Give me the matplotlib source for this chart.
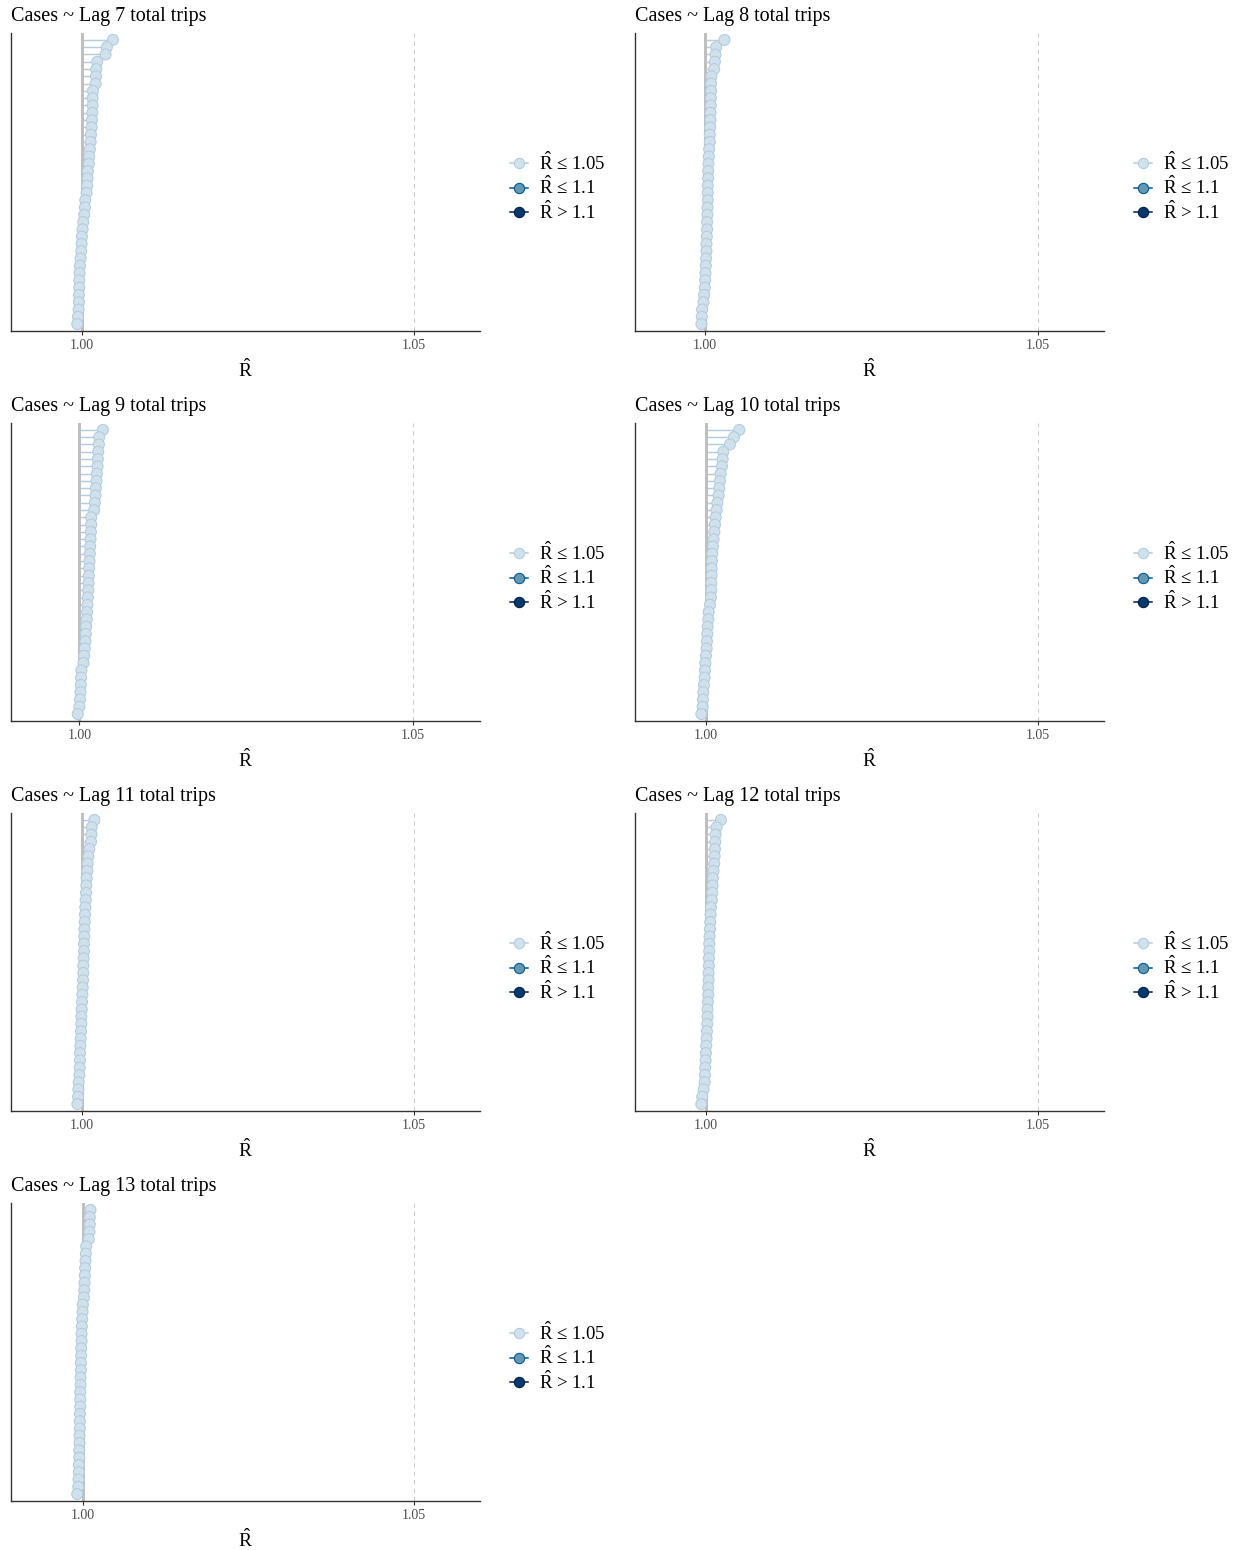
"""R-hat diagnostic plots for the lagged total trips models"""

import matplotlib
matplotlib.use('Agg')
import matplotlib.pyplot as plt
from matplotlib.lines import Line2D

plt.rcParams['font.family'] = ['Liberation Serif', 'DejaVu Serif']
plt.rcParams['mathtext.fontset'] = 'custom'
plt.rcParams['mathtext.rm'] = 'Liberation Serif'
plt.rcParams['mathtext.it'] = 'Liberation Serif:italic'

# Panel titles
titles = ['Cases ~ Lag 7 total trips', 'Cases ~ Lag 8 total trips',
          'Cases ~ Lag 9 total trips', 'Cases ~ Lag 10 total trips',
          'Cases ~ Lag 11 total trips', 'Cases ~ Lag 12 total trips',
          'Cases ~ Lag 13 total trips']

# R-hat per parameter, sorted from largest to smallest
rhat_lag7 = [1.00462, 1.00371, 1.00351, 1.00226, 1.00211, 1.00206, 1.00201, 1.00161,
             1.00156, 1.00156, 1.00151, 1.00146, 1.00141, 1.00131, 1.00126, 1.00115,
             1.00105, 1.00100, 1.00085, 1.00080, 1.00075, 1.00065, 1.00045, 1.00040,
             1.00030, 1.00015, 1.00005, 0.99995, 0.99990, 0.99985, 0.99975, 0.99965,
             0.99960, 0.99955, 0.99955, 0.99950, 0.99950, 0.99945, 0.99935, 0.99925]
rhat_lag8 = [1.00291, 1.00166, 1.00156, 1.00146, 1.00136, 1.00095, 1.00090, 1.00090,
             1.00085, 1.00085, 1.00080, 1.00080, 1.00075, 1.00070, 1.00070, 1.00060,
             1.00055, 1.00050, 1.00045, 1.00045, 1.00040, 1.00040, 1.00040, 1.00035,
             1.00035, 1.00030, 1.00030, 1.00025, 1.00020, 1.00020, 1.00015, 1.00010,
             1.00005, 1.00000, 0.99995, 0.99985, 0.99975, 0.99955, 0.99950, 0.99945]
rhat_lag9 = [1.00351, 1.00296, 1.00291, 1.00281, 1.00276, 1.00271, 1.00261, 1.00256,
             1.00246, 1.00241, 1.00231, 1.00221, 1.00176, 1.00176, 1.00171, 1.00166,
             1.00161, 1.00156, 1.00151, 1.00146, 1.00141, 1.00136, 1.00131, 1.00126,
             1.00120, 1.00115, 1.00110, 1.00100, 1.00095, 1.00090, 1.00080, 1.00070,
             1.00060, 1.00030, 1.00025, 1.00020, 1.00015, 1.00010, 1.00000, 0.99975]
rhat_lag10 = [1.00502, 1.00422, 1.00361, 1.00261, 1.00251, 1.00241, 1.00221, 1.00211,
              1.00201, 1.00191, 1.00171, 1.00161, 1.00146, 1.00136, 1.00126, 1.00115,
              1.00105, 1.00095, 1.00090, 1.00085, 1.00085, 1.00080, 1.00080, 1.00075,
              1.00060, 1.00040, 1.00035, 1.00025, 1.00020, 1.00015, 1.00010, 1.00000,
              0.99990, 0.99985, 0.99980, 0.99970, 0.99960, 0.99955, 0.99950, 0.99930]
rhat_lag11 = [1.00191, 1.00151, 1.00146, 1.00141, 1.00115, 1.00100, 1.00090, 1.00085,
              1.00075, 1.00070, 1.00065, 1.00060, 1.00055, 1.00050, 1.00045, 1.00040,
              1.00040, 1.00035, 1.00035, 1.00030, 1.00025, 1.00025, 1.00020, 1.00015,
              1.00010, 1.00005, 1.00000, 0.99995, 0.99995, 0.99990, 0.99985, 0.99980,
              0.99975, 0.99975, 0.99970, 0.99965, 0.99955, 0.99950, 0.99945, 0.99935]
rhat_lag12 = [1.00221, 1.00156, 1.00141, 1.00136, 1.00131, 1.00126, 1.00120, 1.00110,
              1.00100, 1.00095, 1.00090, 1.00085, 1.00070, 1.00065, 1.00060, 1.00055,
              1.00050, 1.00045, 1.00045, 1.00040, 1.00040, 1.00035, 1.00035, 1.00030,
              1.00030, 1.00025, 1.00020, 1.00020, 1.00015, 1.00010, 1.00005, 1.00000,
              0.99995, 0.99990, 0.99985, 0.99980, 0.99975, 0.99960, 0.99940, 0.99925]
rhat_lag13 = [1.00120, 1.00110, 1.00110, 1.00105, 1.00095, 1.00055, 1.00050, 1.00045,
              1.00040, 1.00035, 1.00030, 1.00025, 1.00020, 1.00005, 1.00000, 0.99995,
              0.99990, 0.99985, 0.99985, 0.99980, 0.99980, 0.99975, 0.99975, 0.99970,
              0.99970, 0.99965, 0.99965, 0.99965, 0.99960, 0.99960, 0.99960, 0.99955,
              0.99955, 0.99950, 0.99950, 0.99945, 0.99945, 0.99940, 0.99935, 0.99920]

all_rhat = [rhat_lag7, rhat_lag8, rhat_lag9, rhat_lag10, rhat_lag11, rhat_lag12, rhat_lag13]

RHAT = r'$\mathrm{\hat{R}}$'
legend_labels = [RHAT + ' \u2264 1.05', RHAT + ' \u2264 1.1', RHAT + ' > 1.1']

# bayesplot blue scheme: fill / outline per rating
fill_colors = ['#d1e1ec', '#6497b1', '#03396c']
edge_colors = ['#b3cde0', '#005b96', '#011f4b']

W, H = 1239, 1550


def rating(v):
    if v <= 1.05:
        return 0
    if v <= 1.1:
        return 1
    return 2


def draw_panel(fig, rect, title, values):
    x0, y0, w, h = rect
    ax = fig.add_axes([x0 / W, 1 - (y0 + h) / H, w / W, h / H])
    n = len(values)
    ys = [n - 1 - i for i in range(n)]
    cols = [rating(v) for v in values]

    # lollipop segments from 1 to each value
    ax.hlines(ys, 1.0, values, colors=[edge_colors[c] for c in cols],
              linewidth=1.07, zorder=1)
    ax.axvline(1.0, color='#bebebe', linewidth=2.1, zorder=2)
    ax.scatter(values, ys, s=62, c=[fill_colors[c] for c in cols],
               edgecolors=[edge_colors[c] for c in cols], linewidths=0.8, zorder=3)
    ax.axvline(1.05, color='#bebebe', linewidth=0.55, dashes=(6, 5), zorder=0)

    ax.set_xlim(min(values) - 0.01, 1.06)
    ax.set_ylim(-0.95, n - 1 + 0.95)
    ax.set_xticks([1.00, 1.05])
    ax.set_xticklabels(['1.00', '1.05'])
    ax.set_yticks([])
    ax.tick_params(axis='x', length=3, width=0.8, color='#333333',
                   labelcolor='#4d4d4d', labelsize=10, pad=2.5)
    for side in ['top', 'right']:
        ax.spines[side].set_visible(False)
    for side in ['left', 'bottom']:
        ax.spines[side].set_color('#333333')
        ax.spines[side].set_linewidth(1.0)

    ax.set_title(title, loc='left', fontsize=14.5, pad=9)
    ax.set_xlabel(RHAT, fontsize=14, labelpad=5)

    handles = [Line2D([], [], color=edge_colors[i], linewidth=1.1, marker='o',
                      markersize=7.4, markerfacecolor=fill_colors[i],
                      markeredgecolor=edge_colors[i], markeredgewidth=0.8)
               for i in range(3)]
    ax.legend(handles, legend_labels, loc='center left',
              bbox_to_anchor=(1.064, 0.483), frameon=False, fontsize=13.5,
              handlelength=0.95, handletextpad=0.6, labelspacing=0.12,
              borderaxespad=0, borderpad=0)
    return ax


fig = plt.figure(figsize=(W / 100, H / 100), dpi=100)

col_x = [11, 635]
row_y = [33, 423, 813, 1203]
for k, (title, values) in enumerate(zip(titles, all_rhat)):
    r, c = divmod(k, 2)
    draw_panel(fig, (col_x[c], row_y[r], 469, 298), title, values)

fig.savefig('out.png', dpi=100)
